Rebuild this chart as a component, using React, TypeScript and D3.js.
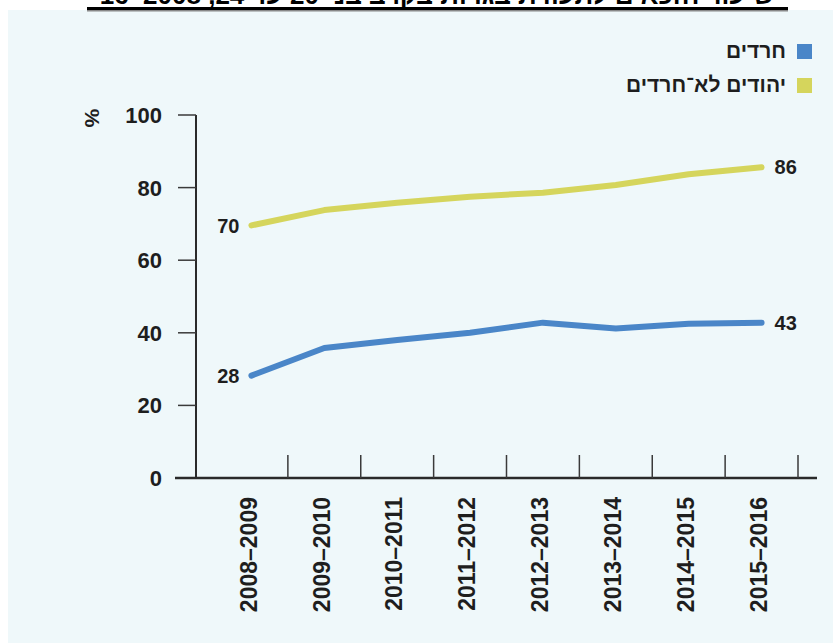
import React from "react";
import * as d3 from "d3";

const categories = ["2008–2009", "2009–2010", "2010–2011", "2011–2012", "2012–2013", "2013–2014", "2014–2015", "2015–2016"];
const haredi = [28.2, 35.8, 38, 40, 42.8, 41.2, 42.5, 42.8];
const nonHaredi = [69.6, 73.8, 75.8, 77.5, 78.6, 80.7, 83.7, 85.6];
const yTicks = [0, 20, 40, 60, 80, 100];
const seriesNames = ["חרדים", "יהודים לא־חרדים"];
const firstLabels = ["28", "70"];
const lastLabels = ["43", "86"];
const titleText = "שיעור הזכאים לתעודת בגרות בקרב בני 20 עד 24, 2008–16";

const W = 833;
const H = 643;
const BLUE = "#4a86c8";
const YELLOW = "#d5d55c";
const INK = "#1e1e1e";
const FONT = "'Liberation Sans', Arial, sans-serif";

export default function App() {
  const x = d3.scaleBand<string>().domain(categories).range([215, 798]).padding(0);
  const y = d3.scaleLinear().domain([0, 100]).range([478, 115]);
  const bw = x.bandwidth();
  const cx = (c: string) => (x(c) as number) + bw / 2;

  const line = d3
    .line<number>()
    .x((_, i) => cx(categories[i]))
    .y((d) => y(d));

  const series = [
    { values: nonHaredi, color: YELLOW, first: firstLabels[1], last: lastLabels[1] },
    { values: haredi, color: BLUE, first: firstLabels[0], last: lastLabels[0] },
  ];

  const xTickPos = categories.slice(1).map((c) => x(c) as number).concat([x.range()[1]]);

  return (
    <svg width={W} height={H} style={{ position: "absolute", left: 0, top: 0, background: "#fff" }}>
      <rect x={8} y={10} width={W - 8} height={H - 10} fill="#eff8fa" />
      {/* clipped title */}
      <text x={437} y={4} textAnchor="middle" fontFamily={FONT} fontWeight="bold" fontSize={26} fill="#000">
        {titleText}
      </text>
      <rect x={87} y={10} width={701} height={1.5} fill="#888" />
      <rect x={87} y={7} width={701} height={3} fill="#000" />

      {/* legend */}
      {seriesNames.map((n, i) => (
        <g key={n}>
          <rect x={797} y={44 + i * 34} width={15} height={15} fill={i === 0 ? BLUE : YELLOW} />
          <text x={786} y={58 + i * 34} textAnchor="end" fontFamily={FONT} fontSize={21} fontWeight={600} fill={INK}>
            {n}
          </text>
        </g>
      ))}

      {/* y axis */}
      <line x1={196} x2={196} y1={y(100)} y2={y(0)} stroke="#2a2a2a" strokeWidth={2} />
      {yTicks.map((t) => (
        <g key={t}>
          {t !== 0 && <line x1={178} x2={196} y1={y(t)} y2={y(t)} stroke="#3a3a3a" strokeWidth={1.5} />}
          <text x={162} y={y(t)} dy="0.36em" textAnchor="end" fontFamily={FONT} fontWeight="bold" fontSize={22} fill={INK}>
            {t}
          </text>
        </g>
      ))}
      <text transform={`translate(93,118) rotate(90)`} textAnchor="middle" dy="0.36em" fontFamily={FONT} fontWeight="bold" fontSize={21} fill={INK}>
        %
      </text>

      {/* x axis */}
      <line x1={175} x2={817} y1={y(0)} y2={y(0)} stroke="#2a2a2a" strokeWidth={2.5} />
      {xTickPos.map((p, i) => (
        <line key={i} x1={p} x2={p} y1={y(0)} y2={y(0) - 23} stroke="#3a3a3a" strokeWidth={1.5} />
      ))}
      {categories.map((c) => (
        <text
          key={c}
          transform={`translate(${cx(c) - 3},497) rotate(-90)`}
          textAnchor="end"
          dy="0.36em"
          fontFamily={FONT}
          fontWeight="bold"
          fontSize={23}
          fill={INK}
        >
          {c}
        </text>
      ))}

      {/* lines */}
      {series.map((s, k) => (
        <g key={k}>
          <path d={line(s.values) || ""} fill="none" stroke={s.color} strokeWidth={6} strokeLinecap="round" strokeLinejoin="round" />
          <text x={cx(categories[0]) - 12} y={y(s.values[0])} dy="0.36em" textAnchor="end" fontFamily={FONT} fontWeight="bold" fontSize={20} fill={INK}>
            {s.first}
          </text>
          <text x={cx(categories[categories.length - 1]) + 13} y={y(s.values[s.values.length - 1])} dy="0.36em" textAnchor="start" fontFamily={FONT} fontWeight="bold" fontSize={20} fill={INK}>
            {s.last}
          </text>
        </g>
      ))}
    </svg>
  );
}
